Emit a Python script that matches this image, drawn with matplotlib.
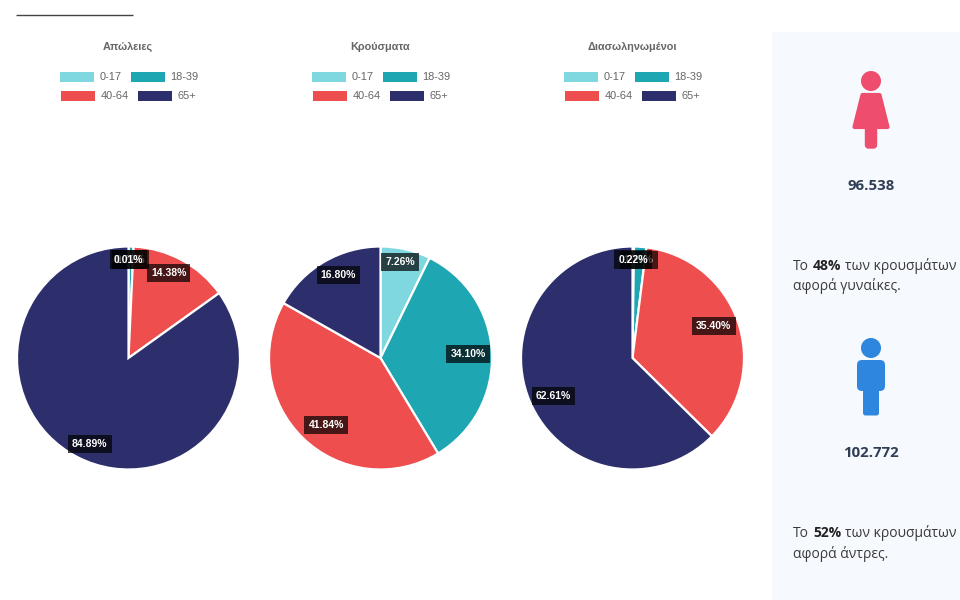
import numpy as np
import matplotlib
matplotlib.use("Agg")
import matplotlib.pyplot as plt
from matplotlib.patches import Rectangle, Circle, FancyBboxPatch, Polygon

age_groups = ["0-17", "18-39", "40-64", "65+"]
colors = ["#7FD8E0", "#1FA6B3", "#EF4E4E", "#2C2F6B"]
titles = ["Απώλειες", "Κρούσματα", "Διασωληνωμένοι"]
deaths = [0.01, 0.72, 14.38, 84.89]
cases = [7.26, 34.10, 41.84, 16.80]
intubated = [0.22, 1.77, 35.40, 62.61]
series = [deaths, cases, intubated]
women_count = "96.538"
men_count = "102.772"
women_pct = "48%"
men_pct = "52%"

W, H = 960, 600
fig = plt.figure(figsize=(W / 100, H / 100), dpi=100, facecolor="white")
bg = fig.add_axes([0, 0, 1, 1], zorder=0)
bg.set_xlim(0, W); bg.set_ylim(H, 0); bg.axis("off")
SANS = "Liberation Sans"
OPEN = "Open Sans"
GREY = "#666666"

# header rule and right panel
bg.plot([16, 133], [14.5, 14.5], color="#444444", lw=1.0, solid_capstyle="butt")
bg.add_patch(Rectangle((772, 32), 188, 568, fc="#F6F9FE", ec="none"))

centers = [128.5, 380.5, 632.5]
R = 111.5
for cx, title, vals in zip(centers, titles, series):
    bg.text(cx - 0.5, 47, title, ha="center", va="center", family=SANS, weight="bold", fontsize=7.8, color=GREY)
    rows = [(72, [(cx - 68.5, age_groups[0], colors[0]), (cx + 2.5, age_groups[1], colors[1])]),
            (91, [(cx - 67.5, age_groups[2], colors[2]), (cx + 9.5, age_groups[3], colors[3])])]
    for y, row in rows:
        for x, lab, col in row:
            bg.add_patch(Rectangle((x, y), 33.5, 9.5, fc=col, ec="none"))
            bg.text(x + 39.5, y + 4.8, lab, ha="left", va="center", family=SANS, fontsize=7.9, color=GREY)

    ax = fig.add_axes([(cx - R - 1) / W, 1 - (358 + R + 1) / H, (2 * R + 2) / W, (2 * R + 2) / H], zorder=2)
    ax.pie(vals, colors=colors, startangle=90, counterclock=False, radius=R,
           wedgeprops=dict(edgecolor="white", linewidth=1.6))
    ax.set_xlim(-R - 1, R + 1); ax.set_ylim(-R - 1, R + 1); ax.set_aspect("equal")
    # data labels: anchored at the outer rim, pulled inward by the box half-size
    fracs = np.cumsum([0] + list(vals))
    for i, v in enumerate(vals):
        mid = np.deg2rad((fracs[i] + v / 2) / 100 * 360)
        ux, uy = np.sin(mid), np.cos(mid)
        norm = max(abs(ux), abs(uy))
        lx = R * ux - 24 * ux / norm
        ly = R * uy - 13 * uy / norm
        ax.text(lx, ly, f"{v:.2f}%", ha="center", va="center", family=SANS, weight="bold",
                fontsize=7.5, color="white", zorder=10 - i,
                bbox=dict(boxstyle="square,pad=0.39", fc=(0, 0, 0, 0.7), ec="none"))

# icons
red = "#EE4D6D"
blue = "#2F86DE"
bg.add_patch(Circle((871, 81), 10, fc=red, ec="none"))
bg.add_patch(Polygon([(862.5, 95), (879.5, 95), (887.5, 127), (854.5, 127)], closed=True, fc=red, ec=red, lw=3, joinstyle="round"))
bg.add_patch(FancyBboxPatch((865.5, 125), 11, 23, boxstyle="round,pad=0,rounding_size=3", fc=red, ec=red, lw=1))
bg.add_patch(Circle((871, 348), 10, fc=blue, ec="none"))
bg.add_patch(FancyBboxPatch((857, 360), 28, 31, boxstyle="round,pad=0,rounding_size=5", fc=blue, ec="none"))
bg.add_patch(FancyBboxPatch((863, 380), 16, 35.5, boxstyle="round,pad=0,rounding_size=2.5", fc=blue, ec="none"))

NAVY = "#2F3E55"
bg.text(871, 186, women_count, ha="center", va="center", family=OPEN, weight="bold", fontsize=10.8, color=NAVY)
bg.text(871, 453, men_count, ha="center", va="center", family=OPEN, weight="bold", fontsize=10.8, color=NAVY)

fig.canvas.draw()
rend = fig.canvas.get_renderer()
def inline(x, y, parts):
    for s, w, c in parts:
        t = bg.text(x, y, s, ha="left", va="baseline", family=OPEN, weight=w, fontsize=10, color=c)
        x += t.get_window_extent(rend).width + (4.0 if s != parts[-1][0] else 0)
BODY = "#3A3A3A"
inline(793, 270, [("Το", "normal", BODY), (women_pct, "bold", "#222222"), ("των κρουσμάτων", "normal", BODY)])
inline(793, 290, [("αφορά γυναίκες.", "normal", BODY)])
inline(793, 537, [("Το", "normal", BODY), (men_pct, "bold", "#222222"), ("των κρουσμάτων", "normal", BODY)])
inline(793, 558, [("αφορά άντρες.", "normal", BODY)])

fig.savefig("out.png", dpi=100, facecolor="white")
